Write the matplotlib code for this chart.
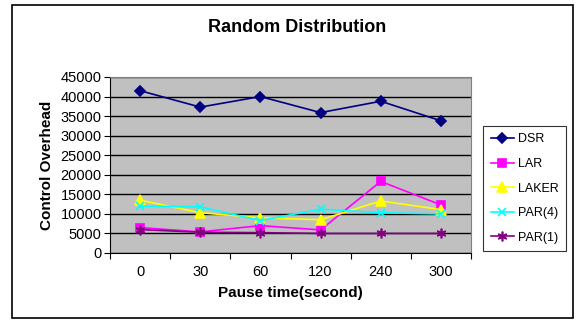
import matplotlib
matplotlib.use("Agg")
import matplotlib.pyplot as plt
from matplotlib.patches import Rectangle

plt.rcParams['font.family'] = ['Liberation Sans', 'DejaVu Sans']

pause_labels = ["0", "30", "60", "120", "240", "300"]
dsr = [41500, 37300, 40000, 35900, 38800, 33800]
lar = [6500, 5400, 7000, 5900, 18300, 12300]
laker = [13500, 10300, 9000, 8500, 13300, 11100]
par4 = [12000, 11800, 8300, 11200, 10300, 10000]
par1 = [6000, 5300, 5200, 5000, 5000, 5000]

series = [
    ("DSR", dsr, "#000080", "D", 5),
    ("LAR", lar, "#FF00FF", "s", 5.5),
    ("LAKER", laker, "#FFFF00", "^", 6.5),
    ("PAR(4)", par4, "#00FFFF", "x", 6),
    ("PAR(1)", par1, "#800080", (6, 2, 0), 7),
]

fig = plt.figure(figsize=(5.85, 3.28), dpi=100)
# outer chart border
fig.patches.append(Rectangle((12 / 585, 1 - 318 / 328), 561 / 585, 313 / 328,
                             transform=fig.transFigure, fill=False,
                             edgecolor="black", lw=1.2))

ax = fig.add_axes([110 / 585, 75 / 328, 361 / 585, 176 / 328])
ax.set_facecolor("#C0C0C0")

xs = [i + 0.5 for i in range(len(pause_labels))]
for name, vals, col, mk, ms in series:
    ax.plot(xs, vals, color=col, marker=mk, markersize=ms, lw=1.2,
            markeredgewidth=1.2, label=name)

ax.set_xlim(0, len(pause_labels))
ax.set_ylim(0, 45000)
ax.set_yticks(range(0, 45001, 5000))
ax.yaxis.grid(True, color="black", lw=1)
ax.set_axisbelow(True)

# ticks between categories, labels centred
ax.set_xticks(range(len(pause_labels) + 1))
ax.set_xticklabels([])
ax.set_xticks(xs, minor=True)
ax.set_xticklabels(pause_labels, minor=True)
ax.tick_params(axis="x", which="minor", length=0, pad=9, labelsize=10.5)
ax.tick_params(axis="x", which="major", length=4, direction="out")
ax.tick_params(axis="y", length=4, direction="out", labelsize=10.5, pad=2)

for s in ["top", "right"]:
    ax.spines[s].set_color("#808080")
ax.spines["left"].set_color("black")
ax.spines["bottom"].set_color("black")

ax.set_xlabel("Pause time(second)", fontsize=11, fontweight="bold", labelpad=5)
ax.set_ylabel("Control Overhead", fontsize=11, fontweight="bold", labelpad=5)
fig.text(297 / 585, 1 - 28 / 328, "Random Distribution", ha="center", va="center",
         fontsize=13, fontweight="bold")

leg = fig.legend(loc="upper left", bbox_to_anchor=(483 / 585, 1 - 126 / 328),
                 frameon=True, fancybox=False, edgecolor="black", fontsize=9,
                 handlelength=1.9, borderpad=0.6, labelspacing=1.0,
                 handletextpad=0.3, borderaxespad=0)
leg.get_frame().set_linewidth(0.8)

fig.savefig("out.png", dpi=100)
